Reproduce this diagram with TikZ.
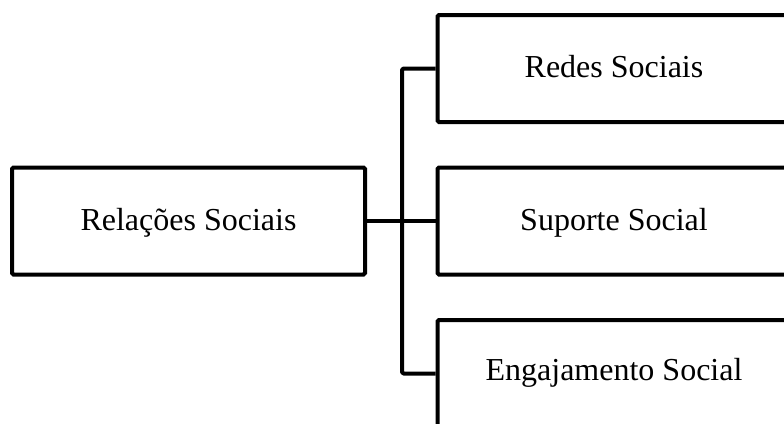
\documentclass[tikz,border=0pt]{standalone}
\usepackage{fontspec}
\setmainfont{Liberation Serif}
\begin{document}
\begin{tikzpicture}[x=1pt,y=-1pt,
  boxnode/.style={draw=black, line width=4pt, rounded corners=1.5pt, rectangle,
    minimum width=353pt, minimum height=107pt, inner sep=0pt,
    text height=22pt, text depth=4pt,
    font=\fontsize{32}{38}\selectfont, text=black},
  link/.style={draw=black, line width=4pt, line join=round, rounded corners=1.5pt}]
\useasboundingbox (0,0) rectangle (784,423);
\clip (0,0) rectangle (784,423);
\node[boxnode] (rel) at (188.5,221) {Relações Sociais};
\node[boxnode] (redes) at (614,68.5) {Redes Sociais};
\node[boxnode] (sup) at (614,221) {Suporte Social};
\node[boxnode, text depth=9pt] (eng) at (614,373.5) {Engajamento Social};
\coordinate (trunk) at (402,221);
\draw[link] (redes.west) -| (trunk) |- (eng.west);
\draw[link] (rel.east) -- (sup.west);
\end{tikzpicture}
\end{document}
